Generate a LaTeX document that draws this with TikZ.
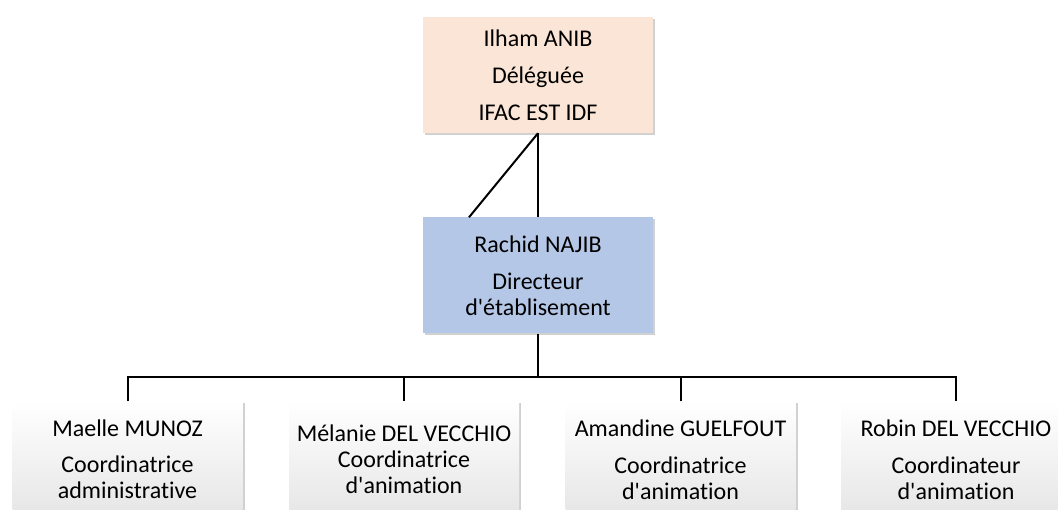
\documentclass[tikz,border=0pt]{standalone}
\usepackage{fontspec}
\setmainfont{Carlito}[Ligatures={NoCommon}]
\usetikzlibrary{shadows}
\definecolor{peach}{HTML}{FBE5D6}
\definecolor{bluebox}{HTML}{B4C7E7}
\newcommand{\apos}{\textquotesingle}
\begin{document}
\begin{tikzpicture}[x=1pt,y=-1pt,
  orgbox/.style={minimum width=230pt, minimum height=116pt, inner sep=0pt,
    align=center, font={\fontsize{24}{26}\selectfont},
    drop shadow={opacity=0.3, shadow xshift=2pt, shadow yshift=-2pt, fill=black!60}},
  topbox/.style={orgbox, fill=peach},
  midbox/.style={orgbox, fill=bluebox},
  leafbox/.style={orgbox, top color=white, bottom color=black!10},
  link/.style={line width=2pt, draw=black, line join=miter}]
\useasboundingbox (0,0) rectangle (1058,510);
\clip (0,0) rectangle (1058,510);
\node[topbox] (top) at (538,75) {Ilham ANIB\\[11pt]Déléguée\\[11pt]IFAC EST IDF};
\node[midbox] (mid) at (538,275.5) {Rachid NAJIB\\[11pt]Directeur\\d\apos établisement};
\node[leafbox] (b1) at (127.5,459.5) {Maelle MUNOZ\\[10pt]Coordinatrice\\administrative};
\node[leafbox] (b2) at (404,459.5) {Mélanie DEL VECCHIO\\Coordinatrice\\d\apos animation};
\node[leafbox] (b3) at (680.5,459.5) {Amandine GUELFOUT\\[11pt]Coordinatrice\\d\apos animation};
\node[leafbox] (b4) at (956,459.5) {Robin DEL VECCHIO\\[11pt]Coordinateur\\d\apos animation};
\coordinate (bus) at (538,377);
\draw[link] (top.south) -- (mid.north);
\draw[link] (top.south) -- ([xshift=-69pt]mid.north);
\draw[link] (mid.south) -- (bus);
\draw[link] (b1.north) |- (bus);
\draw[link] (b2.north) |- (bus);
\draw[link] (b3.north) |- (bus);
\draw[link] (b4.north) |- (bus);
\end{tikzpicture}
\end{document}
